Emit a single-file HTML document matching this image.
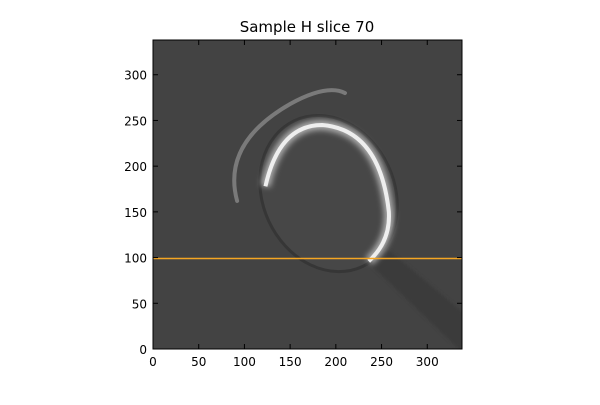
<!DOCTYPE html>
<html><head><meta charset="utf-8"><style>
body{margin:0;background:#fff;width:600px;height:400px;overflow:hidden}
svg text{font-family:"DejaVu Sans","Liberation Sans",sans-serif;font-size:12px;fill:#000}
</style></head><body>
<svg width="600" height="400">
<defs>
<filter id="blur1"><feGaussianBlur stdDeviation="1.5"/></filter>
<filter id="blur2"><feGaussianBlur stdDeviation="3"/></filter>
<clipPath id="clip"><rect x="153" y="40" width="309" height="309"/></clipPath>
</defs>
<g id="plot" clip-path="url(#clip)">
<rect x="153" y="40" width="309" height="309" fill="#434343"/>
</g>
<rect x="153" y="40" width="309" height="309" fill="none" stroke="#000" stroke-width="1"/>
<g id="ticks"></g>
<text x="307" y="32" text-anchor="middle" style="font-size:15px">Sample H slice 70</text>
</svg>
<script>
const xTicks=[0,50,100,150,200,250,300];
const yTicks=[0,50,100,150,200,250,300];
const lineY=[99];
const extent=[0,338];
const X0=153,Y0=349,S=309;
const sx=v=>X0+(v-extent[0])/(extent[1]-extent[0])*S;
const sy=v=>Y0-(v-extent[0])/(extent[1]-extent[0])*S;
const NS='http://www.w3.org/2000/svg';
const plot=document.getElementById('plot'),tk=document.getElementById('ticks');
function mk(tag,a,p){const e=document.createElementNS(NS,tag);for(const k in a)e.setAttribute(k,a[k]);p.appendChild(e);return e;}
const st=mk('path',{d:`M${sx(232)},${sy(98)} L${sx(345)},${sy(-10)} L${sx(345)},${sy(35)} L${sx(258)},${sy(108)} Z`,fill:'#3b3b3b',filter:'url(#blur1)'},plot);


const el=mk('ellipse',{cx:sx(192),cy:sy(170),rx:sx(72)-sx(0),ry:sy(0)-sy(88),transform:`rotate(-25 ${sx(192)} ${sy(170)})`,fill:'#474747',stroke:'#363636','stroke-width':3},plot);


const dShell=`M${sx(123)},${sy(178)} Q${sx(138)},${sy(245)} ${sx(185)},${sy(245)} Q${sx(248)},${sy(240)} ${sx(258)},${sy(150)} Q${sx(260)},${sy(118)} ${sx(236)},${sy(96)}`;
const sh1=mk('path',{d:dShell,fill:'none',stroke:'#aaaaaa','stroke-width':10,filter:'url(#blur2)'},plot);


const sh=mk('path',{d:dShell,fill:'none',stroke:'#eeeeee','stroke-width':4},plot);


const arc=mk('path',{d:`M${sx(92)},${sy(162)} Q${sx(75)},${sy(225)} ${sx(150)},${sy(268)} Q${sx(190)},${sy(290)} ${sx(210)},${sy(280)}`,fill:'none',stroke:'#7a7a7a','stroke-width':4,'stroke-linecap':'round'},plot);


lineY.forEach(v=>{const l=mk('line',{x1:X0,x2:X0+S,y1:sy(v),y2:sy(v),stroke:'#f5a623','stroke-width':1.5},plot);

});
xTicks.forEach(v=>{const x=sx(v);
mk('line',{x1:x,x2:x,y1:Y0,y2:Y0-5,stroke:'#000'},tk);mk('line',{x1:x,x2:x,y1:40,y2:45,stroke:'#000'},tk);
const t=mk('text',{x:x,y:Y0+17,'text-anchor':'middle'},tk);t.textContent=v;

});
yTicks.forEach(v=>{const y=sy(v);
mk('line',{x1:X0,x2:X0+5,y1:y,y2:y,stroke:'#000'},tk);mk('line',{x1:X0+S,x2:X0+S-5,y1:y,y2:y,stroke:'#000'},tk);
const t=mk('text',{x:X0-6,y:y+5,'text-anchor':'end'},tk);t.textContent=v;

});
</script>
</body></html>
